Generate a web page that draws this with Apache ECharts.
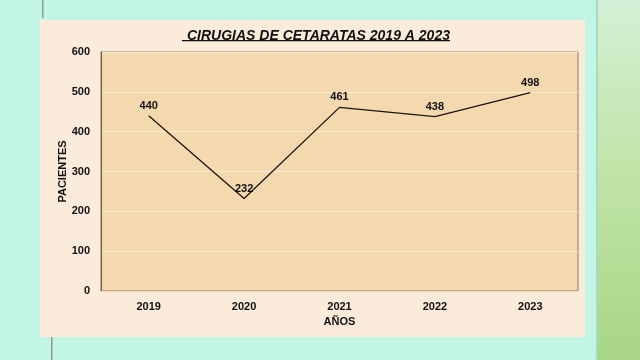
<!DOCTYPE html>
<html><head><meta charset="utf-8">
<script src="https://cdn.jsdelivr.net/npm/echarts@6/dist/echarts.min.js"></script>
<style>html,body{margin:0;padding:0;background:#C3F5E5;}#c{width:640px;height:360px;}</style>
</head><body><div id="c"></div>
<script>
const categories = ['2019', '2020', '2021', '2022', '2023'];
const pacientes = [440, 232, 461, 438, 498];
const yTicks = [0, 100, 200, 300, 400, 500, 600];

const chart = echarts.init(document.getElementById('c'), null, {renderer: 'canvas'});
const font = 'Liberation Sans, Arial, sans-serif';
chart.setOption({
  backgroundColor: '#C3F5E5',
  animation: false,
  graphic: [
    {type: 'rect', left: 598, top: 0, z: -10, shape: {width: 42, height: 360},
      style: {fill: new echarts.graphic.LinearGradient(0, 0, 0, 1, [
        {offset: 0, color: '#d4f0d6'}, {offset: 0.45, color: '#c2e5aa'}, {offset: 1, color: '#a8d684'}])}},
    {type: 'rect', left: 596, top: 0, z: -9, shape: {width: 2, height: 360}, style: {fill: '#a9d8c4'}},
    {type: 'rect', left: 42, top: 0, z: -9, shape: {width: 1.5, height: 18}, style: {fill: '#8a9a94'}},
    {type: 'rect', left: 51, top: 337, z: -9, shape: {width: 1.5, height: 23}, style: {fill: '#8a9a94'}},
    {type: 'rect', left: 40, top: 20, z: -8, shape: {width: 545, height: 317}, style: {fill: '#FAEBDA'}},
    {type: 'rect', left: 182, top: 40, z: 10, shape: {width: 268, height: 1.2}, style: {fill: '#111'}}
  ],
  title: {
    text: 'CIRUGIAS DE CETARATAS 2019 A 2023',
    left: 182, top: 24,
    textStyle: {fontFamily: font, fontSize: 14, fontWeight: 'bold', fontStyle: 'italic', color: '#111'}
  },
  grid: {left: 101, right: 62, top: 52, bottom: 69, show: true, backgroundColor: '#F4D9AF', borderColor: '#8a7866', borderWidth: 1},
  xAxis: {
    type: 'category', data: categories, boundaryGap: true,
    name: 'AÑOS', nameLocation: 'middle', nameGap: 25,
    nameTextStyle: {fontFamily: font, fontSize: 11, fontWeight: 'bold', color: '#111'},
    axisLine: {show: true, lineStyle: {color: '#F4D9AF'}},
    axisTick: {show: false},
    axisLabel: {fontFamily: font, fontSize: 11, fontWeight: 'bold', color: '#111', margin: 10}
  },
  yAxis: {
    type: 'value', min: 0, max: 600, interval: 100,
    name: 'PACIENTES', nameLocation: 'middle', nameGap: 33, nameMoveOverlap: false,
    nameTextStyle: {fontFamily: font, fontSize: 11, fontWeight: 'bold', color: '#111'},
    axisLine: {show: true, lineStyle: {color: '#6a5a4a'}},
    axisTick: {show: false},
    axisLabel: {fontFamily: font, fontSize: 11, fontWeight: 'bold', color: '#111', margin: 11,
      formatter: v => yTicks.includes(v) ? String(v) : ''},
    splitLine: {show: true, lineStyle: {color: '#FBEBD2', width: 1}}
  },
  series: [{
    type: 'line', data: pacientes, symbol: 'circle', symbolSize: 1, showSymbol: true,
    itemStyle: {color: 'rgba(0,0,0,0)', borderWidth: 0},
    lineStyle: {color: '#1a1410', width: 1.3},
    label: {show: true, position: 'top', distance: 4, fontFamily: font, fontSize: 11, fontWeight: 'bold', color: '#111'},
    labelLayout: {hideOverlap: false}
  }]
});
</script></body></html>
